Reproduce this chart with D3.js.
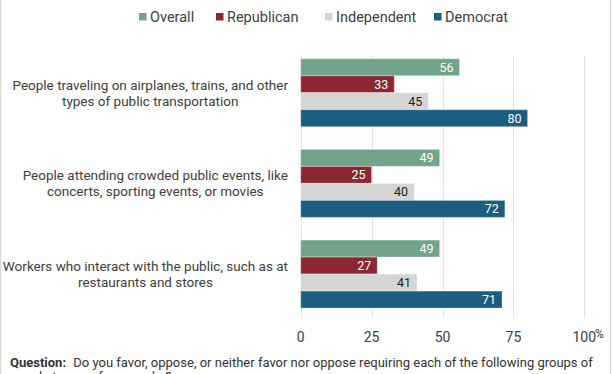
<!DOCTYPE html>
<html>
<head>
<meta charset="utf-8">
<script src="https://cdn.jsdelivr.net/npm/d3@7"></script>
<style>
  body { margin: 0; background: #fff; }
  svg { font-family: Roboto, "Noto Sans", sans-serif; }
</style>
</head>
<body>
<div id="chart"></div>
<script>
const WIDTH = 612
const HEIGHT = 374

// data
const categories = [
  ['People traveling on airplanes, trains, and other', 'types of public transportation'],
  ['People attending crowded public events, like', 'concerts, sporting events, or movies'],
  ['Workers who interact with the public, such as at', 'restaurants and stores']
]
const series = ['Overall', 'Republican', 'Independent', 'Democrat']
const colors = ['#72a489', '#8b2833', '#d5d5d5', '#1b5d7e']
const labelColors = ['#fff', '#fff', '#222', '#fff']
const values = [
  [56, 33, 45, 80],
  [49, 25, 40, 72],
  [49, 27, 41, 71]
]
const ticks = [0, 25, 50, 75, 100]
const question = 'Do you favor, oppose, or neither favor nor oppose requiring each of the following groups of'
const question2 = 'people to wear face masks?'

const svg = d3.select('#chart').append('svg')
  .attr('width', WIDTH)
  .attr('height', HEIGHT)

// outer frame (left / right edges)
svg.append('line').attr('x1', 0.5).attr('x2', 0.5).attr('y1', 0).attr('y2', HEIGHT)
  .attr('stroke', '#d9d9d9').attr('stroke-width', 1.5)
svg.append('line').attr('x1', WIDTH - 1.5).attr('x2', WIDTH - 1.5).attr('y1', 0).attr('y2', HEIGHT)
  .attr('stroke', '#d9d9d9').attr('stroke-width', 1.5)

const x = d3.scaleLinear().domain([0, 100]).range([300.7, 584.3])

const y = d3.scaleBand()
  .domain(d3.range(categories.length))
  .range([47.4, 319.4])
  .paddingInner(0.25)
  .paddingOuter(0.125)

const ys = d3.scaleBand()
  .domain(series)
  .range([0, y.bandwidth()])

// gridlines
svg.append('g')
  .selectAll('line')
  .data(ticks)
  .join('line')
    .attr('x1', (d) => Math.round(x(d)) + 0.5)
    .attr('x2', (d) => Math.round(x(d)) + 0.5)
    .attr('y1', 56)
    .attr('y2', 318)
    .attr('stroke', '#e3e3e3')
    .attr('stroke-width', 1)

// bars
const groups = svg.append('g')
  .selectAll('g')
  .data(values)
  .join('g')
    .attr('transform', (d, i) => 'translate(0,' + y(i) + ')')

groups.selectAll('rect')
  .data((d) => d.map((v, j) => ({ v, j })))
  .join('rect')
    .attr('x', x(0))
    .attr('y', (d) => ys(series[d.j]))
    .attr('width', (d) => x(d.v) - x(0))
    .attr('height', ys.bandwidth())
    .attr('fill', (d) => colors[d.j])
    .attr('stroke', 'rgba(255,255,255,0.35)')
    .attr('stroke-width', 1)

groups.selectAll('text')
  .data((d) => d.map((v, j) => ({ v, j })))
  .join('text')
    .attr('x', (d) => x(d.v) - 6)
    .attr('y', (d) => ys(series[d.j]) + ys.bandwidth() / 2)
    .attr('dy', '0.36em')
    .attr('text-anchor', 'end')
    .attr('font-size', 12.5)
    .attr('fill', (d) => labelColors[d.j])
    .text((d) => d.v)

// category labels, block right-aligned at 288, lines centered within block
const catLabels = svg.append('g')
  .selectAll('text')
  .data(categories)
  .join('text')
    .attr('font-size', 13.5)
    .attr('fill', '#404040')
    .attr('text-anchor', 'middle')

catLabels.each(function(lines, i) {
  const t = d3.select(this)
  const cy = y(i) + y.bandwidth() / 2
  lines.forEach((ln, k) => {
    t.append('tspan')
      .attr('y', cy - 8 + k * 16)
      .attr('dy', '0.36em')
      .text(ln)
  })
  const w = d3.max(t.selectAll('tspan').nodes(), (n) => n.getComputedTextLength())
  t.selectAll('tspan').attr('x', 288 - w / 2)
})

// x axis labels
svg.append('g')
  .selectAll('text')
  .data(ticks)
  .join('text')
    .attr('x', (d) => x(d))
    .attr('y', 342)
    .attr('text-anchor', 'middle')
    .attr('font-size', 14)
    .attr('fill', '#404040')
    .text((d) => d)

svg.append('text')
  .attr('x', 595)
  .attr('y', 338)
  .attr('font-size', 12)
  .attr('fill', '#404040')
  .text('%')

// legend
const legendX = [139, 216, 325, 434]
const legend = svg.append('g')
  .selectAll('g')
  .data(series)
  .join('g')
    .attr('transform', (d, i) => 'translate(' + legendX[i] + ',0)')

legend.append('rect')
  .attr('x', 0)
  .attr('y', 13)
  .attr('width', 7.5)
  .attr('height', 7.5)
  .attr('fill', (d, i) => colors[i])

legend.append('text')
  .attr('x', 11)
  .attr('y', 22)
  .attr('font-size', 14.5)
  .attr('fill', '#404040')
  .text((d) => d)

// footer question
const q = svg.append('text')
  .attr('x', 10)
  .attr('y', 366.5)
  .attr('font-size', 13)
  .attr('fill', '#333')

q.append('tspan').attr('font-weight', 'bold').text('Question:')
q.append('tspan').attr('dx', 4).text(' ' + question)

svg.append('text')
  .attr('x', 10)
  .attr('y', 381)
  .attr('font-size', 13)
  .attr('fill', '#333')
  .text(question2)
</script>
</body>
</html>
